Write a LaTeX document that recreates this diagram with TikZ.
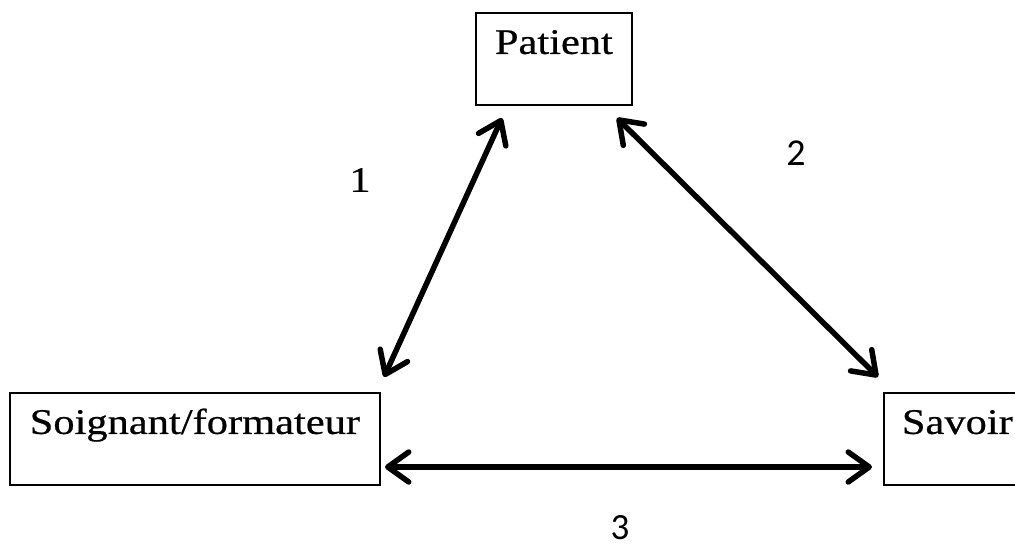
\documentclass[tikz,border=0pt]{standalone}
\usepackage{fontspec}
\setmainfont{Liberation Serif}[FakeStretch=1.18,FakeBold=0.6]
\newfontfamily\carlito{Carlito}
\usetikzlibrary{arrows.meta}
\begin{document}
\begin{tikzpicture}[x=1pt,y=-1pt,
  box/.style={draw=black, line width=1.8pt, inner sep=0pt, anchor=north west,
    align=center, font=\fontsize{36}{40}\selectfont, text height=41pt, text depth=51pt},
  tip/.tip={Straight Barb[length=21pt,width=30pt,line width=5.5pt,round]},
  link/.style={line width=5.5pt, tip-tip},
  num/.style={font=\fontsize{36}{40}\selectfont, inner sep=0pt}]
\useasboundingbox (0,0) rectangle (1015,548);
\clip (0,0) rectangle (1015,548);
\node[box, text width=156pt] (patient) at (475,12) {Patient};
\node[box, text width=370pt] (soignant) at (9,392) {Soignant/formateur};
\node[box, text width=147pt, align=left] (savoir) at (883,392) {\hspace*{18pt}Savoir};
\coordinate (a1) at (384,377);
\coordinate (b1) at (502,118);
\coordinate (a2) at (617,118);
\coordinate (b2) at (878,377);
\coordinate (a3) at (385,467);
\coordinate (b3) at (872,467);
\draw[link] (a1) -- (b1);
\draw[link] (a2) -- (b2);
\draw[link] (a3) -- (b3);
\node[num] (n1) at (360,180) {1};
\node[num, font=\carlito\fontsize{38}{42}\selectfont] (n2) at (796,153) {2};
\node[num, font=\carlito\fontsize{37}{40}\selectfont] (n3) at (620,528) {3};
\end{tikzpicture}
\end{document}
